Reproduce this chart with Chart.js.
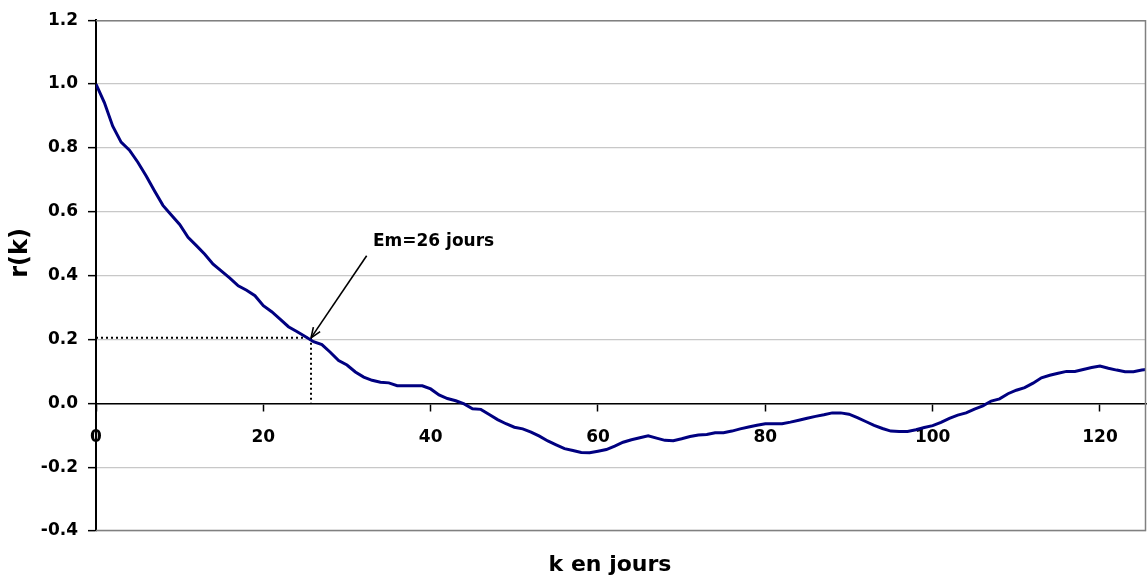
<!DOCTYPE html>
<html>
<head>
<meta charset="utf-8">
<script src="https://cdn.jsdelivr.net/npm/chart.js@4.4.1/dist/chart.umd.min.js"></script>
<style>
  html, body { margin: 0; padding: 0; background: #ffffff; }
  #wrap { width: 1147px; height: 581px; position: relative; }
</style>
</head>
<body>
<div id="wrap"><canvas id="c"></canvas></div>
<script>
// ---- data ----
const kValues = [0,1,2,3,4,5,6,7,8,9,10,11,12,13,14,15,16,17,18,19,20,21,22,23,24,25,26,27,28,29,30,31,32,33,34,35,36,37,38,39,40,41,42,43,44,45,46,47,48,49,50,51,52,53,54,55,56,57,58,59,60,61,62,63,64,65,66,67,68,69,70,71,72,73,74,75,76,77,78,79,80,81,82,83,84,85,86,87,88,89,90,91,92,93,94,95,96,97,98,99,100,101,102,103,104,105,106,107,108,109,110,111,112,113,114,115,116,117,118,119,120,121,122,123,124,125,126];
const rValues = [1.000,0.942,0.868,0.818,0.793,0.755,0.712,0.665,0.620,0.590,0.560,0.520,0.494,0.467,0.436,0.414,0.392,0.368,0.354,0.337,0.306,0.287,0.264,0.240,0.225,0.209,0.193,0.184,0.160,0.134,0.120,0.098,0.082,0.072,0.066,0.064,0.055,0.055,0.055,0.055,0.045,0.026,0.015,0.008,-0.002,-0.017,-0.019,-0.035,-0.051,-0.064,-0.075,-0.080,-0.090,-0.103,-0.118,-0.130,-0.142,-0.148,-0.154,-0.155,-0.150,-0.145,-0.134,-0.122,-0.114,-0.108,-0.102,-0.109,-0.116,-0.117,-0.111,-0.104,-0.099,-0.098,-0.092,-0.092,-0.087,-0.080,-0.074,-0.069,-0.064,-0.064,-0.064,-0.059,-0.053,-0.047,-0.041,-0.036,-0.030,-0.030,-0.034,-0.045,-0.057,-0.069,-0.079,-0.087,-0.088,-0.088,-0.083,-0.076,-0.070,-0.060,-0.047,-0.037,-0.030,-0.018,-0.008,0.007,0.014,0.030,0.041,0.049,0.063,0.080,0.088,0.094,0.100,0.100,0.106,0.112,0.117,0.110,0.104,0.099,0.099,0.104,0.108];
const xTicks = [0,20,40,60,80,100,120];
const yTicks = [-0.4,-0.2,0.0,0.2,0.4,0.6,0.8,1.0,1.2];
const xRange = [0, 125.5];
const yRange = [-0.4, 1.2];
const emPoint = [25.7, 0.205];       // Em point (k, r)
const emLabel = 'Em=26 jours';
const emLabelPos = [33.1, 0.506];    // label anchor (k, r)
const emArrowStart = [32.35, 0.462]; // arrow tail (k, r)
const xTitle = 'k en jours';
const yTitle = 'r(k)';

const FONT = '"DejaVu Sans", "Liberation Sans", Arial, sans-serif';

const framePlugin = {
  id: 'frame',
  afterDraw(chart) {
    const {ctx, chartArea: a, scales} = chart;
    const xs = scales.x, ys = scales.y;
    ctx.save();
    // plot frame (top, right, bottom)
    ctx.strokeStyle = '#808080';
    ctx.lineWidth = 1.5;
    ctx.beginPath();
    ctx.moveTo(a.left, a.top + 0.5);
    ctx.lineTo(a.right - 0.5, a.top + 0.5);
    ctx.lineTo(a.right - 0.5, a.bottom - 0.5);
    ctx.lineTo(a.left, a.bottom - 0.5);
    ctx.stroke();

    // annotation arrow
    const tx = xs.getPixelForValue(emPoint[0]);
    const ty = ys.getPixelForValue(emPoint[1]);
    const sx = xs.getPixelForValue(emArrowStart[0]);
    const sy = ys.getPixelForValue(emArrowStart[1]);
    ctx.strokeStyle = '#000';
    ctx.fillStyle = '#000';
    ctx.lineWidth = 1.6;
    ctx.beginPath();
    ctx.moveTo(sx, sy);
    ctx.lineTo(tx, ty);
    ctx.stroke();
    const ang = Math.atan2(ty - sy, tx - sx);
    const L = 11, W = 0.38;
    ctx.beginPath();
    ctx.moveTo(tx, ty);
    ctx.lineTo(tx - L * Math.cos(ang - W), ty - L * Math.sin(ang - W));
    ctx.moveTo(tx, ty);
    ctx.lineTo(tx - L * Math.cos(ang + W), ty - L * Math.sin(ang + W));
    ctx.stroke();

    // annotation label
    ctx.font = 'bold 17px ' + FONT;
    ctx.textAlign = 'left';
    ctx.textBaseline = 'middle';
    ctx.fillText(emLabel, xs.getPixelForValue(emLabelPos[0]), ys.getPixelForValue(emLabelPos[1]));

    // axis titles
    ctx.font = 'bold 22px ' + FONT;
    ctx.textAlign = 'center';
    ctx.textBaseline = 'middle';
    ctx.fillText(xTitle, 610, 565);
    ctx.save();
    ctx.translate(21, 253);
    ctx.rotate(-Math.PI / 2);
    ctx.font = 'bold 24px ' + FONT;
    ctx.fillText(yTitle, 0, 0);
    ctx.restore();
    ctx.restore();
  }
};

new Chart(document.getElementById('c'), {
  type: 'line',
  data: {
    datasets: [
      {
        data: kValues.map((k, i) => ({x: k, y: rValues[i]})),
        borderColor: '#000080',
        borderWidth: 3,
        pointRadius: 0,
        tension: 0,
        fill: false,
        order: 0
      },
      {
        data: [{x: xRange[0], y: emPoint[1]}, {x: emPoint[0], y: emPoint[1]}],
        borderColor: '#000',
        borderWidth: 2,
        borderDash: [2, 3],
        pointRadius: 0,
        fill: false,
        order: 1
      },
      {
        data: [{x: emPoint[0], y: emPoint[1]}, {x: emPoint[0], y: 0}],
        borderColor: '#000',
        borderWidth: 2,
        borderDash: [2, 3],
        pointRadius: 0,
        fill: false,
        order: 1
      }
    ]
  },
  options: {
    responsive: true,
    maintainAspectRatio: false,
    animation: false,
    events: [],
    layout: { padding: { top: 19, right: 1, bottom: 50, left: 0 } },
    plugins: { legend: { display: false }, tooltip: { enabled: false }, title: { display: false } },
    scales: {
      x: {
        type: 'linear',
        position: { y: 0 },
        min: xRange[0],
        max: xRange[1],
        afterBuildTicks: (s) => { s.ticks = xTicks.map(v => ({ value: v })); },
        grid: { drawOnChartArea: false, drawTicks: true, tickLength: 7, tickColor: '#000', tickWidth: 1.5 },
        border: { display: true, color: '#000', width: 1.5 },
        ticks: {
          padding: 17,
          color: '#000',
          font: { family: FONT, size: 17, weight: 'bold' },
          maxRotation: 0,
          autoSkip: false,
          callback: (v) => String(v)
        }
      },
      y: {
        type: 'linear',
        position: 'left',
        min: yRange[0],
        max: yRange[1],
        afterBuildTicks: (s) => { s.ticks = yTicks.map(v => ({ value: v })); },
        afterFit: (s) => { s.width = 96; },
        grid: { color: '#c8c8c8', lineWidth: 1.3, drawTicks: true, tickLength: 8, tickColor: '#000', tickWidth: 1.5 },
        border: { display: true, color: '#000', width: 2 },
        ticks: {
          padding: 10,
          color: '#000',
          font: { family: FONT, size: 17, weight: 'bold' },
          autoSkip: false,
          callback: (v) => Number(v).toFixed(1)
        }
      }
    }
  },
  plugins: [framePlugin]
});
</script>
</body>
</html>
